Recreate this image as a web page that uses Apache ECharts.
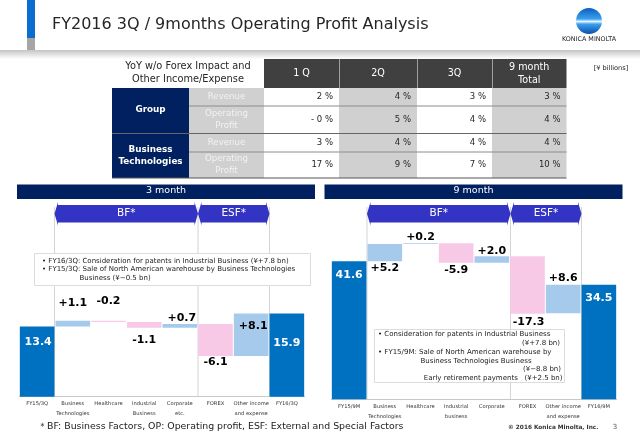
<!DOCTYPE html>
<html>
<head>
<meta charset="utf-8">
<title>FY2016 3Q / 9months Operating Profit Analysis</title>
<script src="https://cdn.jsdelivr.net/npm/echarts@6/dist/echarts.min.js"></script>
<style>
html, body { margin: 0; padding: 0; background: #fff; }
#main { width: 640px; height: 443px; }
</style>
</head>
<body>
<div id="main"></div>
<script>
var FONT = '"DejaVu Sans", Verdana, sans-serif';

// table
var tableColumns = ['1 Q', '2Q', '3Q', '9 month\nTotal'];
var tableCorner = 'YoY w/o Forex Impact and\nOther Income/Expense';
var tableGroups = ['Group', 'Business\nTechnologies'];
var tableRowNames = ['Revenue', 'Operating\nProfit', 'Revenue', 'Operating\nProfit'];
var tableValues = [
	['2 %', '4 %', '3 %', '3 %'],
	['- 0 %', '5 %', '4 %', '4 %'],
	['3 %', '4 %', '4 %', '4 %'],
	['17 %', '9 %', '7 %', '10 %']
];

// 3 month waterfall
var categories3m = ['FY15/3Q', 'Business\nTechnologies', 'Healthcare', 'Industrial\nBusiness', 'Corporate\netc.', 'FOREX', 'Other income\nand expense', 'FY16/3Q'];
var base3m = [0, 13.4, 14.3, 13.2, 13.2, 7.8, 7.8, 0];
var totals3m = [13.4, '-', '-', '-', '-', '-', '-', 15.9];
var ups3m = ['-', 1.1, '-', '-', 0.7, '-', 8.1, '-'];
var downs3m = ['-', '-', 0.2, 1.1, '-', 6.1, '-', '-'];
var labels3m = ['13.4', '+1.1', '-0.2', '-1.1', '+0.7', '-6.1', '+8.1', '15.9'];

// 9 month waterfall
var categories9m = ['FY15/9M', 'Business\nTechnologies', 'Healthcare', 'Industrial\nbusiness', 'Corporate', 'FOREX', 'Other income\nand expense', 'FY16/9M'];
var base9m = [0, 41.6, 46.8, 41.1, 41.1, 25.8, 25.9, 0];
var totals9m = [41.6, '-', '-', '-', '-', '-', '-', 34.5];
var ups9m = ['-', 5.2, 0.2, '-', 2.0, '-', 8.6, '-'];
var downs9m = ['-', '-', '-', 5.9, '-', 17.3, '-', '-'];
var labels9m = ['41.6', '+5.2', '+0.2', '-5.9', '+2.0', '-17.3', '+8.6', '34.5'];

// notes
var notes3m = [
	'• FY16/3Q: Consideration for patents in Industrial Business (¥+7.8 bn)',
	'• FY15/3Q: Sale of North American warehouse by Business Technologies',
	'Business (¥−0.5 bn)'
];
var notes9m = [
	'• Consideration for patents in Industrial Business',
	'(¥+7.8 bn)',
	'• FY15/9M: Sale of North American warehouse by',
	'Business Technologies Business',
	'(¥−8.8 bn)',
	'Early retirement payments   (¥+2.5 bn)'
];

var COLOR_TOTAL = '#0070c0', COLOR_UP = '#a6caec', COLOR_DOWN = '#f7c9e6';
var NAVY = '#002060', ARROW = '#3333c4', LINE = '#d4d4d4';

var g = [];

function rect(x, y, w, h, fill, z) {
	g.push({ type: 'rect', shape: { x: x, y: y, width: w, height: h }, style: { fill: fill }, z: z || 1, silent: true });
}
function hline(x1, x2, y, color, width, z) {
	g.push({ type: 'line', shape: { x1: x1, y1: y, x2: x2, y2: y }, style: { stroke: color, lineWidth: width }, z: z || 3, silent: true });
}
function vline(x, y1, y2, color, z) {
	g.push({ type: 'line', shape: { x1: x, y1: y1, x2: x, y2: y2 }, style: { stroke: color, lineWidth: 1 }, z: z || 1, silent: true });
}
function text(x, y, str, size, color, align, weight, z) {
	g.push({
		type: 'text', z: z || 5, silent: true,
		style: {
			x: x, y: y, text: str, fill: color, textAlign: align || 'center', textVerticalAlign: 'middle',
			font: (weight || 'normal') + ' ' + size + 'px ' + FONT, lineHeight: Math.round(size * 1.35)
		}
	});
}
function arrow(x1, x2, label) {
	var top = 205, bot = 222.5, h = 3, tip = 3.5, mid = (top + bot) / 2;
	g.push({
		type: 'polygon', z: 4, silent: true,
		shape: { points: [[x1, mid], [x1 + tip, top - h], [x1 + tip, top], [x2 - tip, top], [x2 - tip, top - h], [x2, mid], [x2 - tip, bot + h], [x2 - tip, bot], [x1 + tip, bot], [x1 + tip, bot + h]] },
		style: { fill: ARROW }
	});
	text((x1 + x2) / 2, mid, label, 10.5, '#fff');
}

/* slide header */
function drawHeader() {
	rect(27, 0, 8, 38, '#0a6ed1');
	rect(27, 38, 8, 12, '#a6a6a6');
	g.push({
		type: 'rect', shape: { x: 0, y: 50, width: 640, height: 9 }, z: 1, silent: true,
		style: { fill: { type: 'linear', x: 0, y: 0, x2: 0, y2: 1, colorStops: [{ offset: 0, color: '#c4c4c4' }, { offset: 1, color: '#ffffff' }] } }
	});
	text(52, 25, 'FY2016 3Q / 9months Operating Profit Analysis', 16, '#262626', 'left');
	g.push({
		type: 'circle', shape: { cx: 589, cy: 21, r: 13 }, z: 2, silent: true,
		style: { fill: { type: 'linear', x: 0, y: 0, x2: 0, y2: 1, colorStops: [{ offset: 0, color: '#0b5fc0' }, { offset: 0.42, color: '#3aa0ee' }, { offset: 0.52, color: '#e8f4fd' }, { offset: 0.62, color: '#3aa0ee' }, { offset: 1, color: '#0b4fa8' }] } }
	});
	text(589, 39, 'KONICA MINOLTA', 6.4, '#222');
	text(611, 68, '[¥ billions]', 6.6, '#222');
}

/* operating profit table */
function drawTable() {
	var colX = [264, 339, 417, 492, 566.5];
	var rowY = [88, 106, 133.5, 152, 178];
	var i, j;
	text(188, 72.5, tableCorner, 9.8, '#262626');
	for(i = 0; i < 4; i++) {
		rect(colX[i] + (i ? 0.5 : 0), 59, colX[i + 1] - colX[i] - (i ? 0.5 : 0), 29, '#404040');
		text((colX[i] + colX[i + 1]) / 2, 73.5, tableColumns[i], 9.6, '#fff');
	}
	rect(112, 88, 77, 90, NAVY);
	text(150.5, 110, tableGroups[0], 8.8, '#fff', 'center', 'bold');
	text(150.5, 156, tableGroups[1], 8.8, '#fff', 'center', 'bold');
	rect(189, 88, 75, 90, '#d0d0d0');
	rect(339, 88, 78, 90, '#d0d0d0');
	rect(492, 88, 74.5, 90, '#d0d0d0');
	for(i = 0; i < 4; i++) {
		var cy = (rowY[i] + rowY[i + 1]) / 2;
		text(226.5, cy, tableRowNames[i], 8.6, '#f2f2f2');
		for(j = 0; j < 4; j++)
			text(colX[j + 1] - 6, cy, tableValues[i][j], 8.5, '#262626', 'right');
	}
	hline(189, 566.5, 106, '#8c8c8c', 1);
	hline(112, 566.5, 133.5, '#666', 1);
	hline(189, 566.5, 152, '#8c8c8c', 1);
	hline(112, 566.5, 178, '#555', 1);
}

/* header bar, arrows and divider lines of one waterfall panel */
function drawPanel(x1, x2, title, a, b, c, y2) {
	rect(x1, 184.5, x2 - x1, 14.5, NAVY);
	text((x1 + x2) / 2, 191, title, 9.5, '#fff');
	vline(a, 207, y2, LINE);
	vline(b, 207, y2, LINE);
	vline(c, 207, y2, LINE);
	arrow(a, b, 'BF*');
	arrow(b, c, 'ESF*');
}

function noteBox(x, y, w, h) {
	g.push({ type: 'rect', shape: { x: x, y: y, width: w, height: h }, style: { fill: '#fff', stroke: '#dcdcdc', lineWidth: 1 }, z: 4, silent: true });
}

function drawNotes() {
	noteBox(34.5, 253.5, 276, 32);
	text(42, 260.7, notes3m[0], 7, '#222', 'left');
	text(42, 269.6, notes3m[1], 7, '#222', 'left');
	text(79.5, 278.5, notes3m[2], 7, '#222', 'left');

	noteBox(374.5, 329.5, 190, 53);
	text(378, 334.5, notes9m[0], 7, '#222', 'left');
	text(560, 343.5, notes9m[1], 7, '#222', 'right');
	text(378, 352.5, notes9m[2], 7, '#222', 'left');
	text(420.5, 361.5, notes9m[3], 7, '#222', 'left');
	text(561, 369.5, notes9m[4], 7, '#222', 'right');
	text(562.5, 378.5, notes9m[5], 7, '#222', 'right');
}

function drawFooter() {
	text(38, 426.7, '＊BF: Business Factors, OP: Operating profit, ESF: External and Special Factors', 9.4, '#222', 'left');
	text(508, 427, '© 2016 Konica Minolta, Inc.', 5.8, '#333', 'left', 'bold');
	text(615, 427, '3', 7, '#555');
}

// label position per bar: [position, dx, dy, color]
var labelLayout3m = [
	['insideTop', 1, 5, '#fff'], ['top', 0, -7], ['top', 0, -9], ['bottom', 0, 2], ['top', 2, 5],
	['bottom', 0, -4], ['insideTop', 2, 2], ['insideTop', 0, 19, '#fff']
];
var labelLayout9m = [
	['insideTop', 0, 3, '#fff'], ['bottom', 0, -4], ['top', 0, 4], ['bottom', 0, -3], ['top', 0, 5],
	['bottom', 1, -2], ['top', 0, 4], ['insideTop', 0, 3, '#fff']
];

function makeItems(values, labels, layout) {
	var items = [];
	for(var i = 0; i < values.length; i++) {
		if(values[i] === '-') {
			items.push('-');
			continue;
		}
		items.push({
			value: values[i],
			label: {
				show: true,
				formatter: labels[i],
				position: layout[i][0],
				offset: [layout[i][1], layout[i][2]],
				fontFamily: FONT,
				fontWeight: 'bold',
				fontSize: 11,
				color: layout[i][3] || '#000'
			}
		});
	}
	return items;
}

function makeSeries(axis, base, totals, ups, downs, labels, layout) {
	function bar(name, data, color) {
		return {
			name: name,
			type: 'bar',
			stack: 'wf' + axis,
			xAxisIndex: axis,
			yAxisIndex: axis,
			barCategoryGap: '3%',
			silent: true,
			animation: false,
			itemStyle: { color: color },
			data: data
		};
	}
	return [
		bar('base', base, 'transparent'),
		bar('total', makeItems(totals, labels, layout), COLOR_TOTAL),
		bar('up', makeItems(ups, labels, layout), COLOR_UP),
		bar('down', makeItems(downs, labels, layout), COLOR_DOWN)
	];
}

function xAxisOf(index, data) {
	return {
		type: 'category',
		gridIndex: index,
		data: data,
		axisTick: { show: false },
		axisLine: { lineStyle: { color: '#c8c8c8' } },
		axisLabel: { interval: 0, fontFamily: FONT, fontSize: 5.2, color: '#333', lineHeight: 10, margin: 2 }
	};
}

function yAxisOf(index, max) {
	return { type: 'value', gridIndex: index, min: 0, max: max, show: false, splitLine: { show: false } };
}

drawHeader();
drawTable();
drawPanel(17, 315, '3 month', 54.5, 198, 269.5, 396.5);
drawPanel(324.5, 622.5, '9 month', 367, 510.5, 581.5, 399);
drawNotes();
drawFooter();

var chart = echarts.init(document.getElementById('main'));
chart.setOption({
	backgroundColor: '#fff',
	animation: false,
	grid: [
		{ left: 19.3, width: 285.4, top: 239.8, height: 156.9 },
		{ left: 331.3, width: 285.4, top: 233.3, height: 166 }
	],
	xAxis: [xAxisOf(0, categories3m), xAxisOf(1, categories9m)],
	yAxis: [yAxisOf(0, 30), yAxisOf(1, 50)],
	series: makeSeries(0, base3m, totals3m, ups3m, downs3m, labels3m, labelLayout3m)
		.concat(makeSeries(1, base9m, totals9m, ups9m, downs9m, labels9m, labelLayout9m)),
	graphic: { elements: g }
});
</script>
</body>
</html>
